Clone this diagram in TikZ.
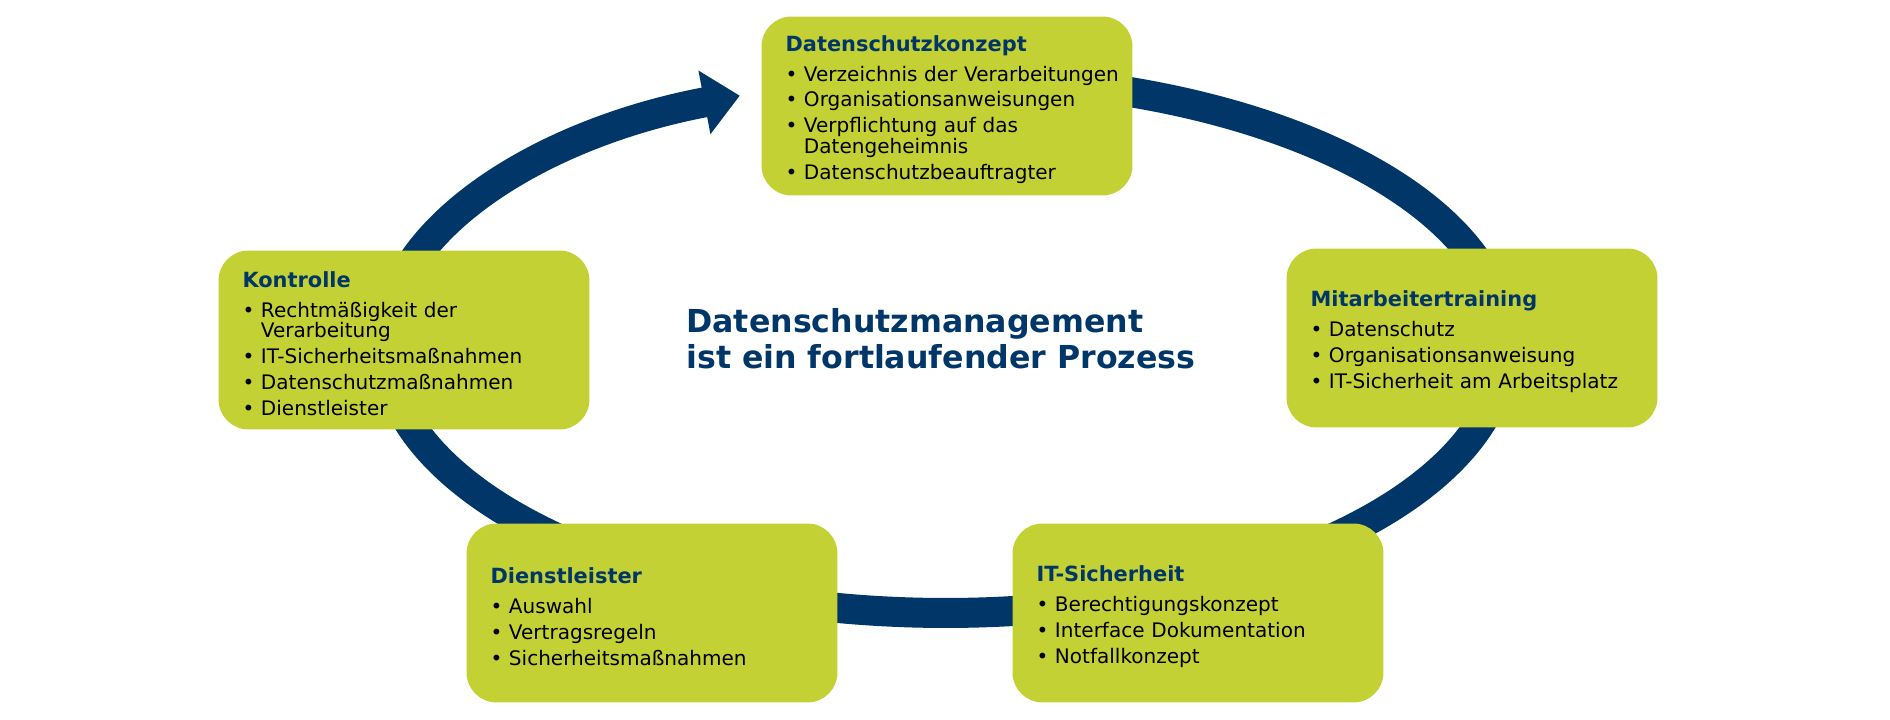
\documentclass[tikz,border=0pt]{standalone}
\usepackage{fontspec}
\setmainfont{DejaVu Sans}
\usepackage{tikz}
\usetikzlibrary{arrows.meta,positioning}

\definecolor{dsgreen}{RGB}{195,209,52}
\definecolor{dsblue}{RGB}{0,54,104}

\newcommand{\bul}[1]{\par\hangindent=10.5pt\hangafter=1\noindent\makebox[10.5pt][l]{\textbullet}#1}
\newcommand{\boxhead}[1]{{\fontsize{11.9}{14}\selectfont\bfseries\color{dsblue}#1}\par\vspace{2.3pt}}

\begin{document}
\begin{tikzpicture}[x=0.02cm, y=0.02cm]
\tikzset{
  topic/.style = {rectangle, rounded corners=0.6cm, fill=dsgreen, text width=6.94cm, inner xsep=0.24cm,
                  minimum height=3.58cm, font=\fontsize{11.4}{11.9}\selectfont,
                  execute at begin node={\setlength{\parskip}{2.8pt}\raggedright\leftskip=0.24cm},
                  execute at end node={\par\vspace{-4pt}}},
  ring/.style  = {draw=dsblue, line width=0.6cm, -{Triangle[length=0.72cm, width=1.25cm]}},
  headline/.style = {text=dsblue, font=\fontsize{18}{20.5}\selectfont\bfseries, align=left, inner sep=0pt}
}
\useasboundingbox (0,0) rectangle (1890,720);

% Ring (clockwise, starts behind the top box)
\coordinate (ringstart) at (1042.2,638.9);
\draw[ring] (ringstart) arc[start angle=80, end angle=-248.5, x radius=11.2cm, y radius=5.36cm];

% Boxes
\node[topic] (konzept) at (947,614) {\boxhead{Datenschutzkonzept}
  \bul{Verzeichnis der Verarbeitungen}
  \bul{Organisationsanweisungen}
  \bul{Verpflichtung auf das\newline Datengeheimnis}
  \bul{Datenschutzbeauftragter}};
\node[topic] (training) at (1472,382) {\boxhead{Mitarbeitertraining}
  \bul{Datenschutz}
  \bul{Organisationsanweisung}
  \bul{IT-Sicherheit am Arbeitsplatz}};
\node[topic] (itsich) at (1198,107) {\boxhead{IT-Sicherheit}
  \bul{Berechtigungskonzept}
  \bul{Interface Dokumentation}
  \bul{Notfallkonzept}};
\node[topic] (dienst) at (652,107) {\boxhead{Dienstleister}
  \bul{Auswahl}
  \bul{Vertragsregeln}
  \bul{Sicherheitsmaßnahmen}};
\node[topic] (kontrolle) at (404,380) {\boxhead{Kontrolle}
  \bul{Rechtmäßigkeit der\newline Verarbeitung}
  \bul{IT-Sicherheitsmaßnahmen}
  \bul{Datenschutzmaßnahmen}
  \bul{Dienstleister}};

% Title in the middle
\node[headline, anchor=base west] (titel) at (686,351) {Datenschutzmanagement\\ist ein fortlaufender Prozess};

\end{tikzpicture}
\end{document}
